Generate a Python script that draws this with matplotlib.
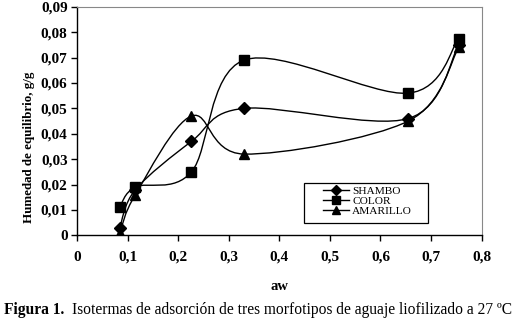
import matplotlib.pyplot as plt
import numpy as np
from matplotlib.path import Path
from matplotlib.patches import PathPatch, Rectangle
from matplotlib.lines import Line2D

plt.rcParams['font.family'] = ['Liberation Serif', 'DejaVu Serif']

aw = [0.084, 0.115, 0.226, 0.330, 0.655, 0.755]
shambo = [0.003, 0.018, 0.037, 0.050, 0.046, 0.075]
color = [0.011, 0.019, 0.025, 0.069, 0.056, 0.0775]
amarillo = [0.001, 0.016, 0.047, 0.032, 0.045, 0.074]

series = [('SHAMBO', shambo, 'D', 6.3), ('COLOR', color, 's', 7), ('AMARILLO', amarillo, '^', 7.5)]

xticks = [0, 0.1, 0.2, 0.3, 0.4, 0.5, 0.6, 0.7, 0.8]
yticks = [0, 0.01, 0.02, 0.03, 0.04, 0.05, 0.06, 0.07, 0.08, 0.09]


def smooth_path(x, y):
    # excel style smoothed line as cubic bezier segments
    p = np.column_stack([x, y])
    n = len(p)
    verts = [p[0]]
    codes = [Path.MOVETO]
    for i in range(n - 1):
        prev = p[i - 1] if i > 0 else p[i]
        nxt = p[i + 2] if i + 2 < n else p[i + 1]
        c1 = p[i] + (p[i + 1] - prev) / 6
        c2 = p[i + 1] - (nxt - p[i]) / 6
        verts += [c1, c2, p[i + 1]]
        codes += [Path.CURVE4] * 3
    return Path(verts, codes)


fig = plt.figure(figsize=(5.24, 3.25), dpi=100)
ax = fig.add_axes([0.1475, 0.276, 0.7715, 0.703])

handles = []
for name, vals, mk, ms in series:
    ax.add_patch(PathPatch(smooth_path(aw, vals), fill=False, lw=1.0, ec='black'))
    ax.plot(aw, vals, ls='none', marker=mk, ms=ms, color='black')
    handles.append(Line2D([], [], color='black', lw=1, marker=mk, ms=ms * 0.85, label=name))

ax.set_xlim(0, 0.8)
ax.set_ylim(0, 0.09)
ax.set_xticks(xticks)
ax.set_yticks(yticks)
ax.set_xticklabels(['0' if v == 0 else f'{v:.1f}'.replace('.', ',') for v in xticks],
                   fontweight='bold', fontsize=11)
ax.set_yticklabels(['0' if v == 0 else f'{v:.2f}'.replace('.', ',') for v in yticks],
                   fontweight='bold', fontsize=11)
ax.tick_params(axis='y', direction='out', length=4, width=1, pad=3)
ax.tick_params(axis='x', direction='out', length=4, width=1, pad=7)
for s in ['top', 'right']:
    ax.spines[s].set_color('#888888')
    ax.spines[s].set_linewidth(0.8)
for s in ['left', 'bottom']:
    ax.spines[s].set_linewidth(1.0)

ax.set_xlabel('aw', fontweight='bold', fontsize=10.5, labelpad=12)
ax.set_ylabel('Humedad de equilibrio, g/g', fontweight='bold', fontsize=9.4)
ax.yaxis.set_label_coords(-0.105, 0.386)

# legend box drawn separately, entries placed inside
ax.add_patch(Rectangle((0.5606, 0.054), 0.3066, 0.175, transform=ax.transAxes,
                       fill=False, ec='black', lw=0.9, zorder=5))
leg = ax.legend(handles=handles, loc='upper left', bbox_to_anchor=(0.608, 0.214),
                frameon=False, fontsize=8.2, handlelength=2.3, handletextpad=0.25,
                labelspacing=0.0, borderpad=0, borderaxespad=0)

fig.text(0.008, 0.035, 'Figura 1.', fontweight='bold', fontsize=11.2)
fig.text(0.137, 0.035, 'Isotermas de adsorción de tres morfotipos de aguaje liofilizado a 27 ºC',
         fontsize=11.2)

fig.savefig('out.png', dpi=100)
